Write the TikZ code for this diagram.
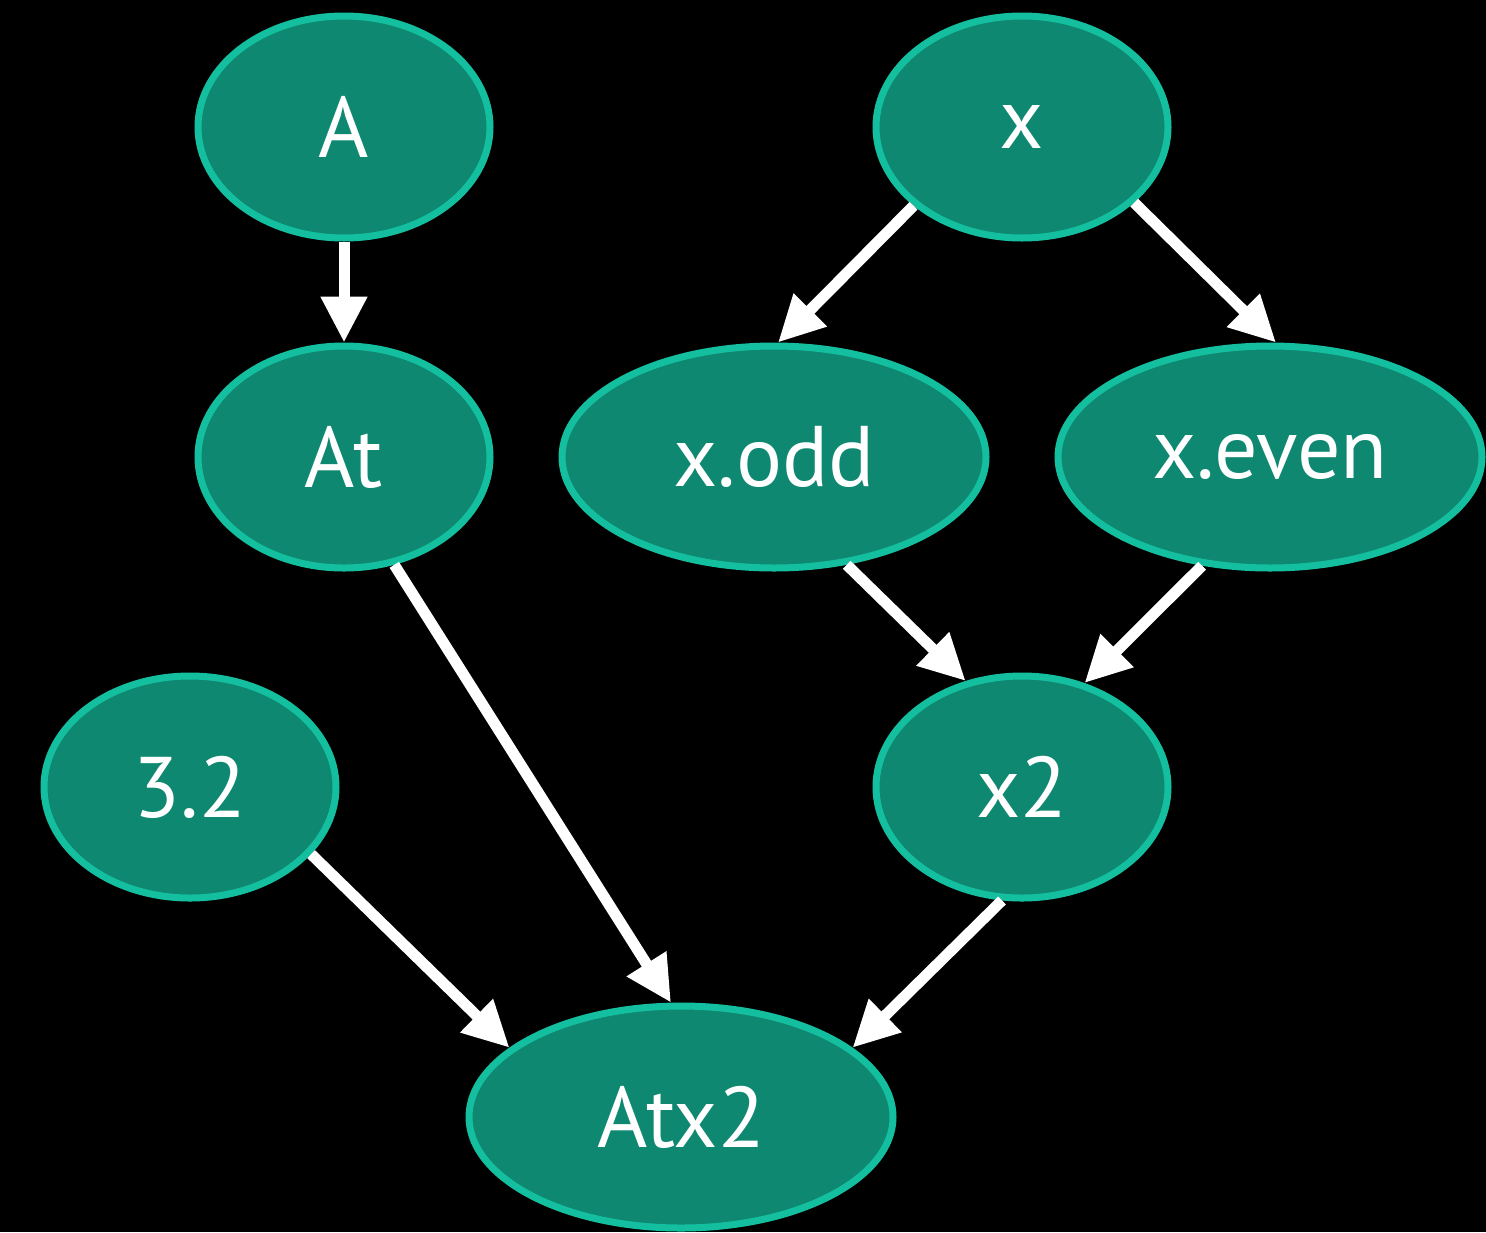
\documentclass[tikz,border=0pt]{standalone}
\usepackage{fontspec}
\setmainfont{PT Sans}
\usepackage{tikz}
\usetikzlibrary{arrows.meta}
\usetikzlibrary{shapes.geometric}
\definecolor{nodefill}{HTML}{0E8870}
\definecolor{nodeline}{HTML}{14BFA0}
\newcommand{\gnode}[3]{\node(#1)[item] at (#2){#3}}

\begin{document}
\begin{tikzpicture}[
        x=0.5pt, y=-0.5pt,
        every node/.style={font=\fontsize{43}{50}\selectfont},
        item/.style={ellipse,minimum width=146pt,minimum height=111pt,
                     inner sep=0pt,line width=3.5pt,draw=nodeline,fill=nodefill,
                     text=white},
        wide/.style={minimum width=212pt},
        link/.style={draw=white,line width=5.5pt,
                     -{Triangle[length=23pt,width=22pt]}}
      ]
      \fill[black] (0,0) rectangle (1486,1232);
      \gnode{A}{344,127}{A};
      \gnode{x}{1022,127}{x};
      \gnode{At}{344,457}{At};
      \node(xodd)[item,wide] at (774,457){x.odd};
      \node(xeven)[item,wide] at (1270,457){x.even};
      \gnode{c32}{190,787}{3.2};
      \gnode{x2}{1022,787}{x2};
      \node(Atx2)[item,wide] at (681,1117){Atx2};

      \draw[link] (A) -- (At);
      \draw[link] (x.216) -- (xodd.88);
      \draw[link] (x.326) -- (xeven.87);
      \draw[link] (xodd.304) -- (x2.118);
      \draw[link] (xeven.238) -- (x2.59);
      \draw[link] (At.295) -- (Atx2.95);
      \draw[link] (c32.331) -- (Atx2.158);
      \draw[link] (x2.260) -- (Atx2.22);
    \end{tikzpicture}
\end{document}
